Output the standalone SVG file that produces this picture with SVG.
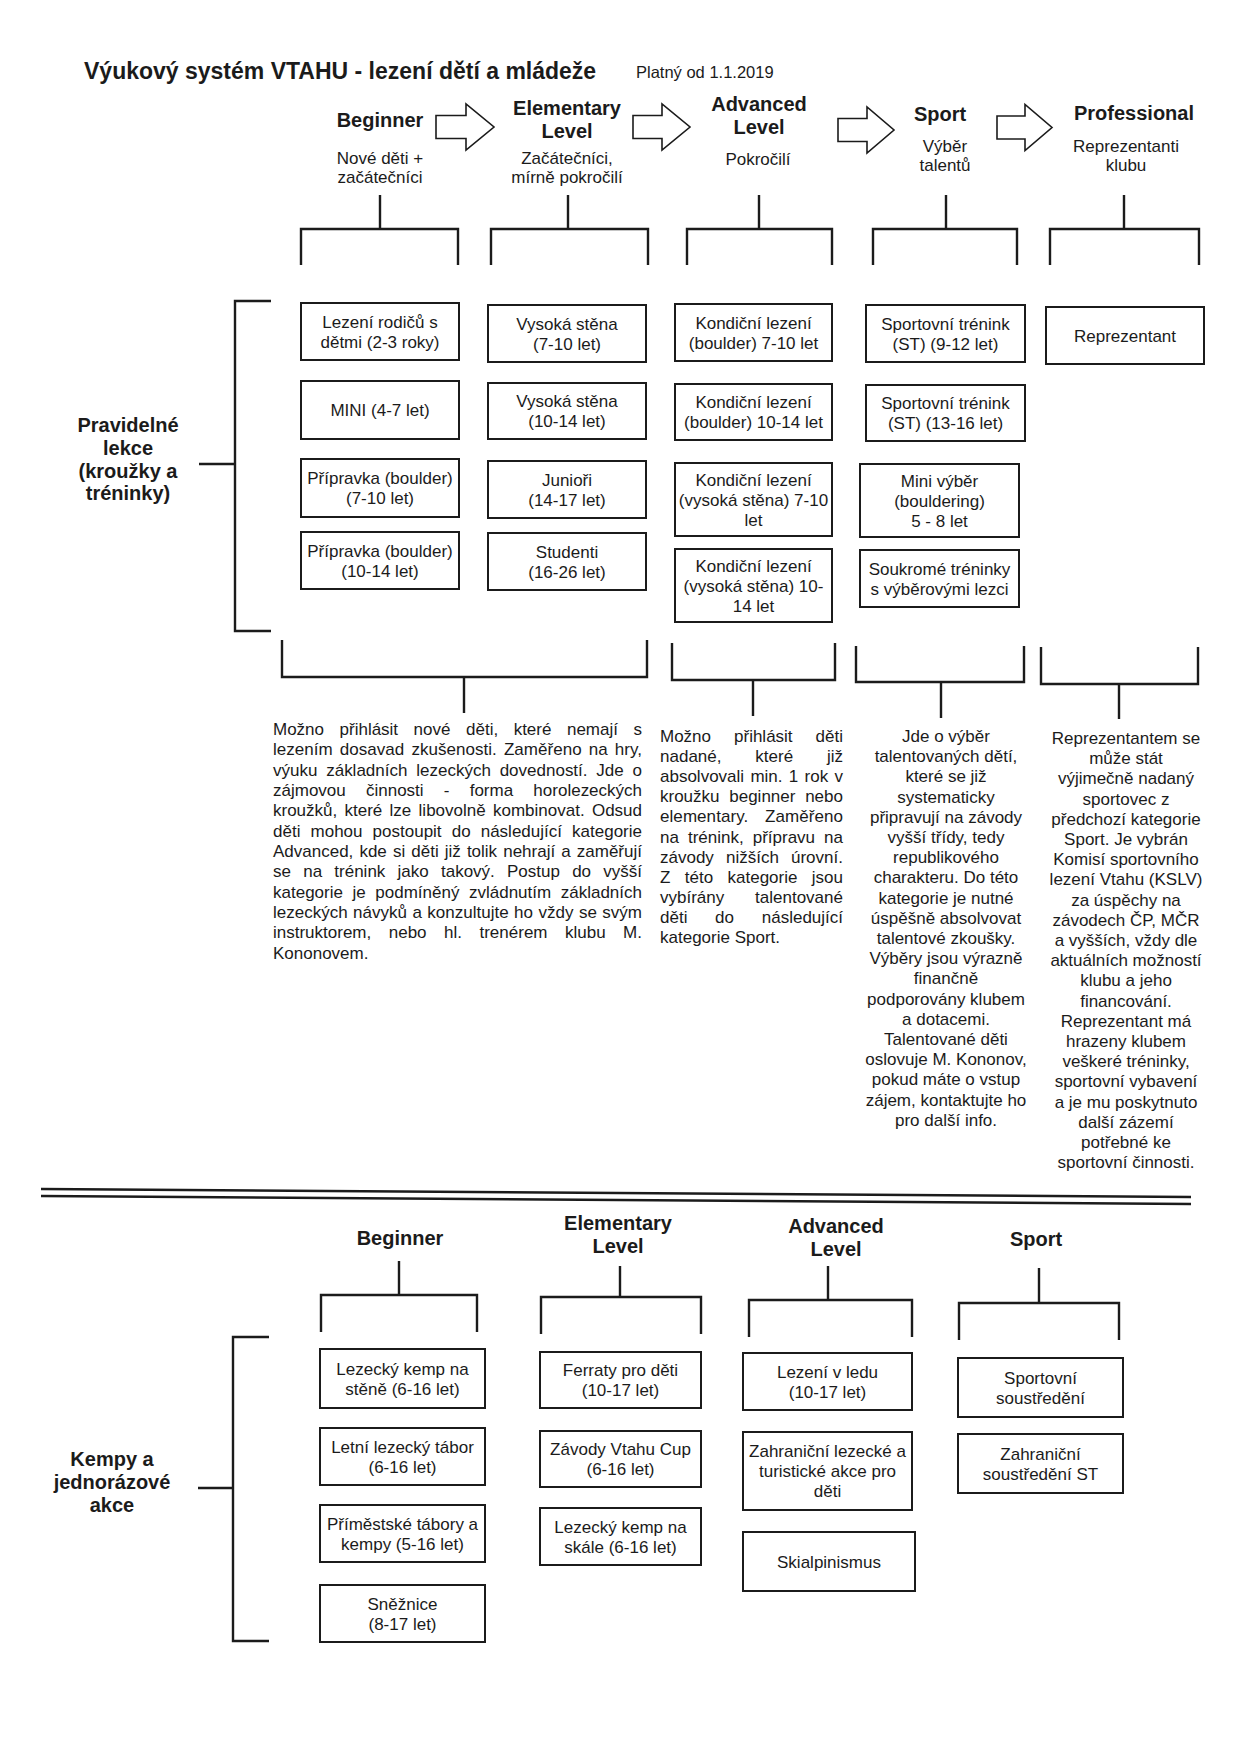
<svg xmlns="http://www.w3.org/2000/svg" width="1240" height="1753" viewBox="0 0 1240 1753">
<style>
text{font-family:"Liberation Sans",Arial,Helvetica,sans-serif;fill:#1b1b1b}
.h{font-weight:bold;font-size:20px;text-anchor:middle}
.s{font-size:17px;text-anchor:middle}
.p{font-size:17px}
.c{font-size:17px;text-anchor:middle}
.box{fill:none;stroke:#1b1b1b;stroke-width:2}
.ln{fill:none;stroke:#1b1b1b;stroke-width:2.4}
.arr{fill:#fff;stroke:#1b1b1b;stroke-width:1.6;stroke-linejoin:miter}
</style>
<rect x="0" y="0" width="1240" height="1753" fill="#fff"/>

<g id="title">
<text x="84" y="79" style="font-weight:bold;font-size:23px">Výukový systém VTAHU - lezení dětí a mládeže</text>
<text x="636" y="78" style="font-size:16.5px">Platný od 1.1.2019</text>
</g>

<g id="level-beginner">
<text class="h" x="380" y="127">Beginner</text>
<text class="s" x="380" y="164">Nové děti +</text>
<text class="s" x="380" y="183">začátečníci</text>
</g>
<g id="level-elementary">
<text class="h" x="567" y="115">Elementary</text>
<text class="h" x="567" y="138">Level</text>
<text class="s" x="567" y="164">Začátečníci,</text>
<text class="s" x="567" y="183">mírně pokročilí</text>
</g>
<g id="level-advanced">
<text class="h" x="759" y="111">Advanced</text>
<text class="h" x="759" y="134">Level</text>
<text class="s" x="758" y="165">Pokročilí</text>
</g>
<g id="level-sport">
<text class="h" x="940" y="121">Sport</text>
<text class="s" x="945" y="152">Výběr</text>
<text class="s" x="945" y="171">talentů</text>
</g>
<g id="level-professional">
<text class="h" x="1134" y="120">Professional</text>
<text class="s" x="1126" y="152">Reprezentanti</text>
<text class="s" x="1126" y="171">klubu</text>
</g>

<g id="arrows">
<polygon class="arr" points="436,115.5 466,115.5 466,104 494,127 466,150 466,138.5 436,138.5"/>
<polygon class="arr" points="633,115.5 662,115.5 662,104 690,127 662,150 662,138.5 633,138.5"/>
<polygon class="arr" points="838,118.5 867,118.5 867,107 894,130 867,153 867,141.5 838,141.5"/>
<polygon class="arr" points="997,116 1025,116 1025,104.5 1052,127.5 1025,150.5 1025,139 997,139"/>
</g>

<g id="connectors">
<path class="ln" d="M380,195 V229 M301,265 V229 H458 V265"/>
<path class="ln" d="M568,195 V229 M491,265 V229 H648 V265"/>
<path class="ln" d="M759,195 V229 M687,265 V229 H832 V265"/>
<path class="ln" d="M946,195 V229 M873,265 V229 H1017 V265"/>
<path class="ln" d="M1124,195 V229 M1050,265 V229 H1199 V265"/>
<path class="ln" d="M271,301 H235 V631 H271 M199,464 H235"/>
<path class="ln" d="M282,640 V677 H647 V640 M464,677 V713"/>
<path class="ln" d="M672,643 V680 H835 V643 M753,680 V716"/>
<path class="ln" d="M856,646 V682 H1024 V646 M941,682 V718"/>
<path class="ln" d="M1041,647 V684 H1198 V647 M1119,684 V719"/>
<path d="M41,1189 L1191,1197" stroke="#1b1b1b" stroke-width="2.6" fill="none"/>
<path d="M41,1196 L1191,1204" stroke="#1b1b1b" stroke-width="2.6" fill="none"/>
<path class="ln" d="M399,1261 V1295 M321,1332 V1295 H477 V1332"/>
<path class="ln" d="M620,1266 V1297 M541,1334 V1297 H701 V1334"/>
<path class="ln" d="M828,1266 V1300 M749,1337 V1300 H912 V1337"/>
<path class="ln" d="M1039,1268 V1303 M959,1340 V1303 H1119 V1340"/>
<path class="ln" d="M269,1337 H233 V1641 H269 M198,1488 H233"/>
</g>

<g id="group-pravidelne">
<text class="h" x="128" y="432">Pravidelné</text>
<text class="h" x="128" y="455">lekce</text>
<text class="h" x="128" y="478">(kroužky a</text>
<text class="h" x="128" y="500">tréninky)</text>
</g>

<g id="b1-1"><rect class="box" x="301" y="303" width="158" height="57"/><text class="c" x="380" y="327.5">Lezení rodičů s</text><text class="c" x="380" y="347.5">dětmi (2-3 roky)</text></g>
<g id="b1-2"><rect class="box" x="301" y="381" width="158" height="58"/><text class="c" x="380" y="416">MINI (4-7 let)</text></g>
<g id="b1-3"><rect class="box" x="301" y="459" width="158" height="58"/><text class="c" x="380" y="484">Přípravka (boulder)</text><text class="c" x="380" y="504">(7-10 let)</text></g>
<g id="b1-4"><rect class="box" x="301" y="532" width="158" height="57"/><text class="c" x="380" y="556.5">Přípravka (boulder)</text><text class="c" x="380" y="576.5">(10-14 let)</text></g>

<g id="b2-1"><rect class="box" x="488" y="305" width="158" height="57"/><text class="c" x="567" y="329.5">Vysoká stěna</text><text class="c" x="567" y="349.5">(7-10 let)</text></g>
<g id="b2-2"><rect class="box" x="488" y="383" width="158" height="56"/><text class="c" x="567" y="407">Vysoká stěna</text><text class="c" x="567" y="427">(10-14 let)</text></g>
<g id="b2-3"><rect class="box" x="488" y="461" width="158" height="57"/><text class="c" x="567" y="485.5">Junioři</text><text class="c" x="567" y="505.5">(14-17 let)</text></g>
<g id="b2-4"><rect class="box" x="488" y="533" width="158" height="57"/><text class="c" x="567" y="557.5">Studenti</text><text class="c" x="567" y="577.5">(16-26 let)</text></g>

<g id="b3-1"><rect class="box" x="675" y="304" width="157" height="57"/><text class="c" x="753.5" y="328.5">Kondiční lezení</text><text class="c" x="753.5" y="348.5">(boulder) 7-10 let</text></g>
<g id="b3-2"><rect class="box" x="675" y="384" width="157" height="56"/><text class="c" x="753.5" y="408">Kondiční lezení</text><text class="c" x="753.5" y="428">(boulder) 10-14 let</text></g>
<g id="b3-3"><rect class="box" x="675" y="463" width="157" height="73"/><text class="c" x="753.5" y="485.5">Kondiční lezení</text><text class="c" x="753.5" y="505.5">(vysoká stěna) 7-10</text><text class="c" x="753.5" y="525.5">let</text></g>
<g id="b3-4"><rect class="box" x="675" y="549" width="157" height="73"/><text class="c" x="753.5" y="571.5">Kondiční lezení</text><text class="c" x="753.5" y="591.5">(vysoká stěna) 10-</text><text class="c" x="753.5" y="611.5">14 let</text></g>

<g id="b4-1"><rect class="box" x="866" y="305" width="159" height="57"/><text class="c" x="945.5" y="329.5">Sportovní trénink</text><text class="c" x="945.5" y="349.5">(ST) (9-12 let)</text></g>
<g id="b4-2"><rect class="box" x="866" y="385" width="159" height="56"/><text class="c" x="945.5" y="409">Sportovní trénink</text><text class="c" x="945.5" y="429">(ST) (13-16 let)</text></g>
<g id="b4-3"><rect class="box" x="860" y="464" width="159" height="73"/><text class="c" x="939.5" y="486.5">Mini výběr</text><text class="c" x="939.5" y="506.5">(bouldering)</text><text class="c" x="939.5" y="526.5">5 - 8 let</text></g>
<g id="b4-4"><rect class="box" x="860" y="550" width="159" height="57"/><text class="c" x="939.5" y="574.5">Soukromé tréninky</text><text class="c" x="939.5" y="594.5">s výběrovými lezci</text></g>

<g id="b5-1"><rect class="box" x="1046" y="307" width="158" height="57"/><text class="c" x="1125" y="341.5">Reprezentant</text></g>

<g id="desc-beginner">
<text class="p" x="273" y="735" word-spacing="10.8" textLength="369" lengthAdjust="spacing">Možno přihlásit nové děti, které nemají s</text>
<text class="p" x="273" y="755.3" word-spacing="2.37" textLength="369" lengthAdjust="spacing">lezením dosavad zkušenosti. Zaměřeno na hry,</text>
<text class="p" x="273" y="775.7" word-spacing="4.06" textLength="369" lengthAdjust="spacing">výuku základních lezeckých dovedností. Jde o</text>
<text class="p" x="273" y="796" word-spacing="15.5" textLength="369" lengthAdjust="spacing">zájmovou činnosti - forma horolezeckých</text>
<text class="p" x="273" y="816.3" word-spacing="2.56" textLength="369" lengthAdjust="spacing">kroužků, které lze libovolně kombinovat. Odsud</text>
<text class="p" x="273" y="836.7" word-spacing="5.38" textLength="369" lengthAdjust="spacing">děti mohou postoupit do následující kategorie</text>
<text class="p" x="273" y="857" word-spacing="1.36" textLength="369" lengthAdjust="spacing">Advanced, kde si děti již tolik nehrají a zaměřují</text>
<text class="p" x="273" y="877.3" word-spacing="7.5" textLength="369" lengthAdjust="spacing">se na trénink jako takový. Postup do vyšší</text>
<text class="p" x="273" y="897.7" word-spacing="4.85" textLength="369" lengthAdjust="spacing">kategorie je podmíněný zvládnutím základních</text>
<text class="p" x="273" y="918" word-spacing="0.75" textLength="369" lengthAdjust="spacing">lezeckých návyků a konzultujte ho vždy se svým</text>
<text class="p" x="273" y="938.3" word-spacing="12.76" textLength="369" lengthAdjust="spacing">instruktorem, nebo hl. trenérem klubu M.</text>
<text class="p" x="273" y="958.7">Kononovem.</text>
</g>

<g id="desc-advanced">
<text class="p" x="660" y="742" word-spacing="18.3" textLength="183" lengthAdjust="spacing">Možno přihlásit děti</text>
<text class="p" x="660" y="762.1" word-spacing="29.1" textLength="183" lengthAdjust="spacing">nadané, které již</text>
<text class="p" x="660" y="782.2" word-spacing="1.58" textLength="183" lengthAdjust="spacing">absolvovali min. 1 rok v</text>
<text class="p" x="660" y="802.3" word-spacing="5.04" textLength="183" lengthAdjust="spacing">kroužku beginner nebo</text>
<text class="p" x="660" y="822.4" word-spacing="12" textLength="183" lengthAdjust="spacing">elementary. Zaměřeno</text>
<text class="p" x="660" y="842.5" word-spacing="4.3" textLength="183" lengthAdjust="spacing">na trénink, přípravu na</text>
<text class="p" x="660" y="862.6" word-spacing="7.4" textLength="183" lengthAdjust="spacing">závody nižších úrovní.</text>
<text class="p" x="660" y="882.7" word-spacing="9.67" textLength="183" lengthAdjust="spacing">Z této kategorie jsou</text>
<text class="p" x="660" y="902.8" word-spacing="26.1" textLength="183" lengthAdjust="spacing">vybírány talentované</text>
<text class="p" x="660" y="922.9" word-spacing="23" textLength="183" lengthAdjust="spacing">děti do následující</text>
<text class="p" x="660" y="943">kategorie Sport.</text>
</g>

<g id="desc-sport">
<text class="c" x="946" y="742">Jde o výběr</text>
<text class="c" x="946" y="762.2">talentovaných dětí,</text>
<text class="c" x="946" y="782.4">které se již</text>
<text class="c" x="946" y="802.6">systematicky</text>
<text class="c" x="946" y="822.8">připravují na závody</text>
<text class="c" x="946" y="843">vyšší třídy, tedy</text>
<text class="c" x="946" y="863.2">republikového</text>
<text class="c" x="946" y="883.4">charakteru. Do této</text>
<text class="c" x="946" y="903.6">kategorie je nutné</text>
<text class="c" x="946" y="923.8">úspěšně absolvovat</text>
<text class="c" x="946" y="944">talentové zkoušky.</text>
<text class="c" x="946" y="964.2">Výběry jsou výrazně</text>
<text class="c" x="946" y="984.4">finančně</text>
<text class="c" x="946" y="1004.6">podporovány klubem</text>
<text class="c" x="946" y="1024.8">a dotacemi.</text>
<text class="c" x="946" y="1045">Talentované děti</text>
<text class="c" x="946" y="1065.2">oslovuje M. Kononov,</text>
<text class="c" x="946" y="1085.4">pokud máte o vstup</text>
<text class="c" x="946" y="1105.6">zájem, kontaktujte ho</text>
<text class="c" x="946" y="1125.8">pro další info.</text>
</g>

<g id="desc-professional">
<text class="c" x="1126" y="744">Reprezentantem se</text>
<text class="c" x="1126" y="764.2">může stát</text>
<text class="c" x="1126" y="784.4">výjimečně nadaný</text>
<text class="c" x="1126" y="804.6">sportovec z</text>
<text class="c" x="1126" y="824.8">předchozí kategorie</text>
<text class="c" x="1126" y="845">Sport. Je vybrán</text>
<text class="c" x="1126" y="865.2">Komisí sportovního</text>
<text class="c" x="1126" y="885.4">lezení Vtahu (KSLV)</text>
<text class="c" x="1126" y="905.6">za úspěchy na</text>
<text class="c" x="1126" y="925.8">závodech ČP, MČR</text>
<text class="c" x="1126" y="946">a vyšších, vždy dle</text>
<text class="c" x="1126" y="966.2">aktuálních možností</text>
<text class="c" x="1126" y="986.4">klubu a jeho</text>
<text class="c" x="1126" y="1006.6">financování.</text>
<text class="c" x="1126" y="1026.8">Reprezentant má</text>
<text class="c" x="1126" y="1047">hrazeny klubem</text>
<text class="c" x="1126" y="1067.2">veškeré tréninky,</text>
<text class="c" x="1126" y="1087.4">sportovní vybavení</text>
<text class="c" x="1126" y="1107.6">a je mu poskytnuto</text>
<text class="c" x="1126" y="1127.8">další zázemí</text>
<text class="c" x="1126" y="1148">potřebné ke</text>
<text class="c" x="1126" y="1168.2">sportovní činnosti.</text>
</g>

<g id="camp-beginner-h"><text class="h" x="400" y="1245">Beginner</text></g>
<g id="camp-elementary-h"><text class="h" x="618" y="1230">Elementary</text><text class="h" x="618" y="1253">Level</text></g>
<g id="camp-advanced-h"><text class="h" x="836" y="1233">Advanced</text><text class="h" x="836" y="1256">Level</text></g>
<g id="camp-sport-h"><text class="h" x="1036" y="1246">Sport</text></g>

<g id="group-kempy">
<text class="h" x="112" y="1466">Kempy a</text>
<text class="h" x="112" y="1489">jednorázové</text>
<text class="h" x="112" y="1512">akce</text>
</g>

<g id="k1-1"><rect class="box" x="320" y="1349" width="165" height="59"/><text class="c" x="402.5" y="1374.5">Lezecký kemp na</text><text class="c" x="402.5" y="1394.5">stěně (6-16 let)</text></g>
<g id="k1-2"><rect class="box" x="320" y="1428" width="165" height="57"/><text class="c" x="402.5" y="1452.5">Letní lezecký tábor</text><text class="c" x="402.5" y="1472.5">(6-16 let)</text></g>
<g id="k1-3"><rect class="box" x="320" y="1505" width="165" height="57"/><text class="c" x="402.5" y="1529.5">Příměstské tábory a</text><text class="c" x="402.5" y="1549.5">kempy (5-16 let)</text></g>
<g id="k1-4"><rect class="box" x="320" y="1585" width="165" height="57"/><text class="c" x="402.5" y="1609.5">Sněžnice</text><text class="c" x="402.5" y="1629.5">(8-17 let)</text></g>

<g id="k2-1"><rect class="box" x="540" y="1352" width="161" height="56"/><text class="c" x="620.5" y="1376">Ferraty pro děti</text><text class="c" x="620.5" y="1396">(10-17 let)</text></g>
<g id="k2-2"><rect class="box" x="540" y="1431" width="161" height="56"/><text class="c" x="620.5" y="1455">Závody Vtahu Cup</text><text class="c" x="620.5" y="1475">(6-16 let)</text></g>
<g id="k2-3"><rect class="box" x="540" y="1508" width="161" height="57"/><text class="c" x="620.5" y="1532.5">Lezecký kemp na</text><text class="c" x="620.5" y="1552.5">skále (6-16 let)</text></g>

<g id="k3-1"><rect class="box" x="743" y="1353" width="169" height="57"/><text class="c" x="827.5" y="1377.5">Lezení v ledu</text><text class="c" x="827.5" y="1397.5">(10-17 let)</text></g>
<g id="k3-2"><rect class="box" x="743" y="1432" width="169" height="78"/><text class="c" x="827.5" y="1457">Zahraniční lezecké a</text><text class="c" x="827.5" y="1477">turistické akce pro</text><text class="c" x="827.5" y="1497">děti</text></g>
<g id="k3-3"><rect class="box" x="743" y="1532" width="172" height="59"/><text class="c" x="829" y="1567.5">Skialpinismus</text></g>

<g id="k4-1"><rect class="box" x="958" y="1358" width="165" height="59"/><text class="c" x="1040.5" y="1383.5">Sportovní</text><text class="c" x="1040.5" y="1403.5">soustředění</text></g>
<g id="k4-2"><rect class="box" x="958" y="1434" width="165" height="59"/><text class="c" x="1040.5" y="1459.5">Zahraniční</text><text class="c" x="1040.5" y="1479.5">soustředění ST</text></g>
</svg>
